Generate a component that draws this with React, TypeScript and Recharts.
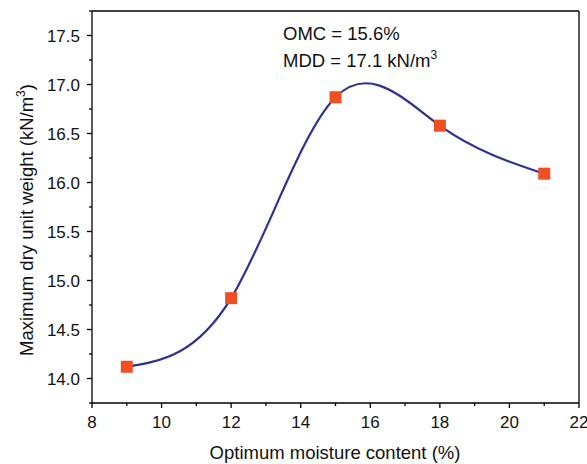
import { LineChart, Line, XAxis, YAxis, Label, ReferenceLine } from 'recharts';

const moisture = [9, 12, 15, 18, 21];
const dryUnitWeight = [14.12, 14.82, 16.87, 16.58, 16.09];
const xTicks = [8, 9, 10, 11, 12, 13, 14, 15, 16, 17, 18, 19, 20, 21, 22];
const yTicks = [13.75, 14.0, 14.25, 14.5, 14.75, 15.0, 15.25, 15.5, 15.75, 16.0, 16.25, 16.5, 16.75, 17.0, 17.25, 17.5, 17.75];
const annotations = ['OMC = 15.6%', 'MDD = 17.1 kN/m'];

const data = moisture.map((m, i) => ({ m, w: dryUnitWeight[i] }));

const FONT = '"Liberation Sans", Arial, sans-serif';

function XTick(props: any) {
  const { x, y, payload } = props;
  const major = payload.value % 2 === 0;
  return (
    <g>
      <line x1={x} x2={x} y1={y} y2={y + (major ? 5 : 3)} stroke="#000" strokeWidth={1.3} />
      {major && (
        <text x={x} y={y + 25} textAnchor="middle" fontSize={17} fill="#111" fontFamily={FONT}>
          {payload.value}
        </text>
      )}
    </g>
  );
}

function YTick(props: any) {
  const { x, y, payload } = props;
  const v = payload.value;
  const major = Math.abs(v * 2 - Math.round(v * 2)) < 1e-6;
  if (v < 13.9 || v > 17.6) {
    return <line x1={x} x2={x - 3} y1={y} y2={y} stroke="#000" strokeWidth={1.3} />;
  }
  return (
    <g>
      <line x1={x} x2={x - (major ? 5 : 3)} y1={y} y2={y} stroke="#000" strokeWidth={1.3} />
      {major && (
        <text x={x - 12} y={y + 6} textAnchor="end" fontSize={17} fill="#111" fontFamily={FONT}>
          {v.toFixed(1)}
        </text>
      )}
    </g>
  );
}

function SquareDot(props: any) {
  const { cx, cy } = props;
  return <rect x={cx - 6} y={cy - 6} width={12} height={12} fill="#f04e23" />;
}

export default function App() {
  return (
    <div style={{ position: 'absolute', left: 0, top: 0, width: 587, height: 464, background: '#fff' }}>
      <LineChart width={587} height={464} data={data} margin={{ top: 11, right: 8, bottom: 11, left: 32 }}>
        <XAxis
          dataKey="m"
          type="number"
          domain={[8, 22]}
          ticks={xTicks}
          interval={0}
          tickSize={0}
          tickMargin={0}
          tickLine={false}
          tick={<XTick />}
          axisLine={{ stroke: '#000', strokeWidth: 1.3 }}
          height={50}
        >
          <Label
            content={() => (
              <text x={335} y={459} textAnchor="middle" fontSize={18.5} fill="#111" fontFamily={FONT}>
                Optimum moisture content (%)
              </text>
            )}
          />
        </XAxis>
        <YAxis
          type="number"
          domain={[13.75, 17.75]}
          ticks={yTicks}
          interval={0}
          tickSize={0}
          tickMargin={0}
          tickLine={false}
          tick={<YTick />}
          axisLine={{ stroke: '#000', strokeWidth: 1.3 }}
          width={60}
        >
          <Label
            content={() => (
              <g>
                <text
                  transform="translate(33, 220) rotate(-90)"
                  textAnchor="middle"
                  fontSize={18.5}
                  fill="#111"
                  fontFamily={FONT}
                >
                  Maximum dry unit weight (kN/m<tspan dy={-8} fontSize={12}>3</tspan>
                  <tspan dy={8}>)</tspan>
                </text>
                <text x={283} y={40} fontSize={18.5} fill="#111" fontFamily={FONT}>
                  {annotations[0]}
                </text>
                <text x={283} y={67} fontSize={18.5} fill="#111" fontFamily={FONT}>
                  {annotations[1]}
                  <tspan dy={-8} fontSize={12}>3</tspan>
                </text>
              </g>
            )}
          />
        </YAxis>
        <ReferenceLine y={17.75} stroke="#000" strokeWidth={1.3} />
        <ReferenceLine x={22} stroke="#000" strokeWidth={1.3} />
        <Line
          type="natural"
          dataKey="w"
          stroke="#2e3192"
          strokeWidth={2.2}
          dot={<SquareDot />}
          activeDot={false}
          isAnimationActive={false}
        />
      </LineChart>
    </div>
  );
}
